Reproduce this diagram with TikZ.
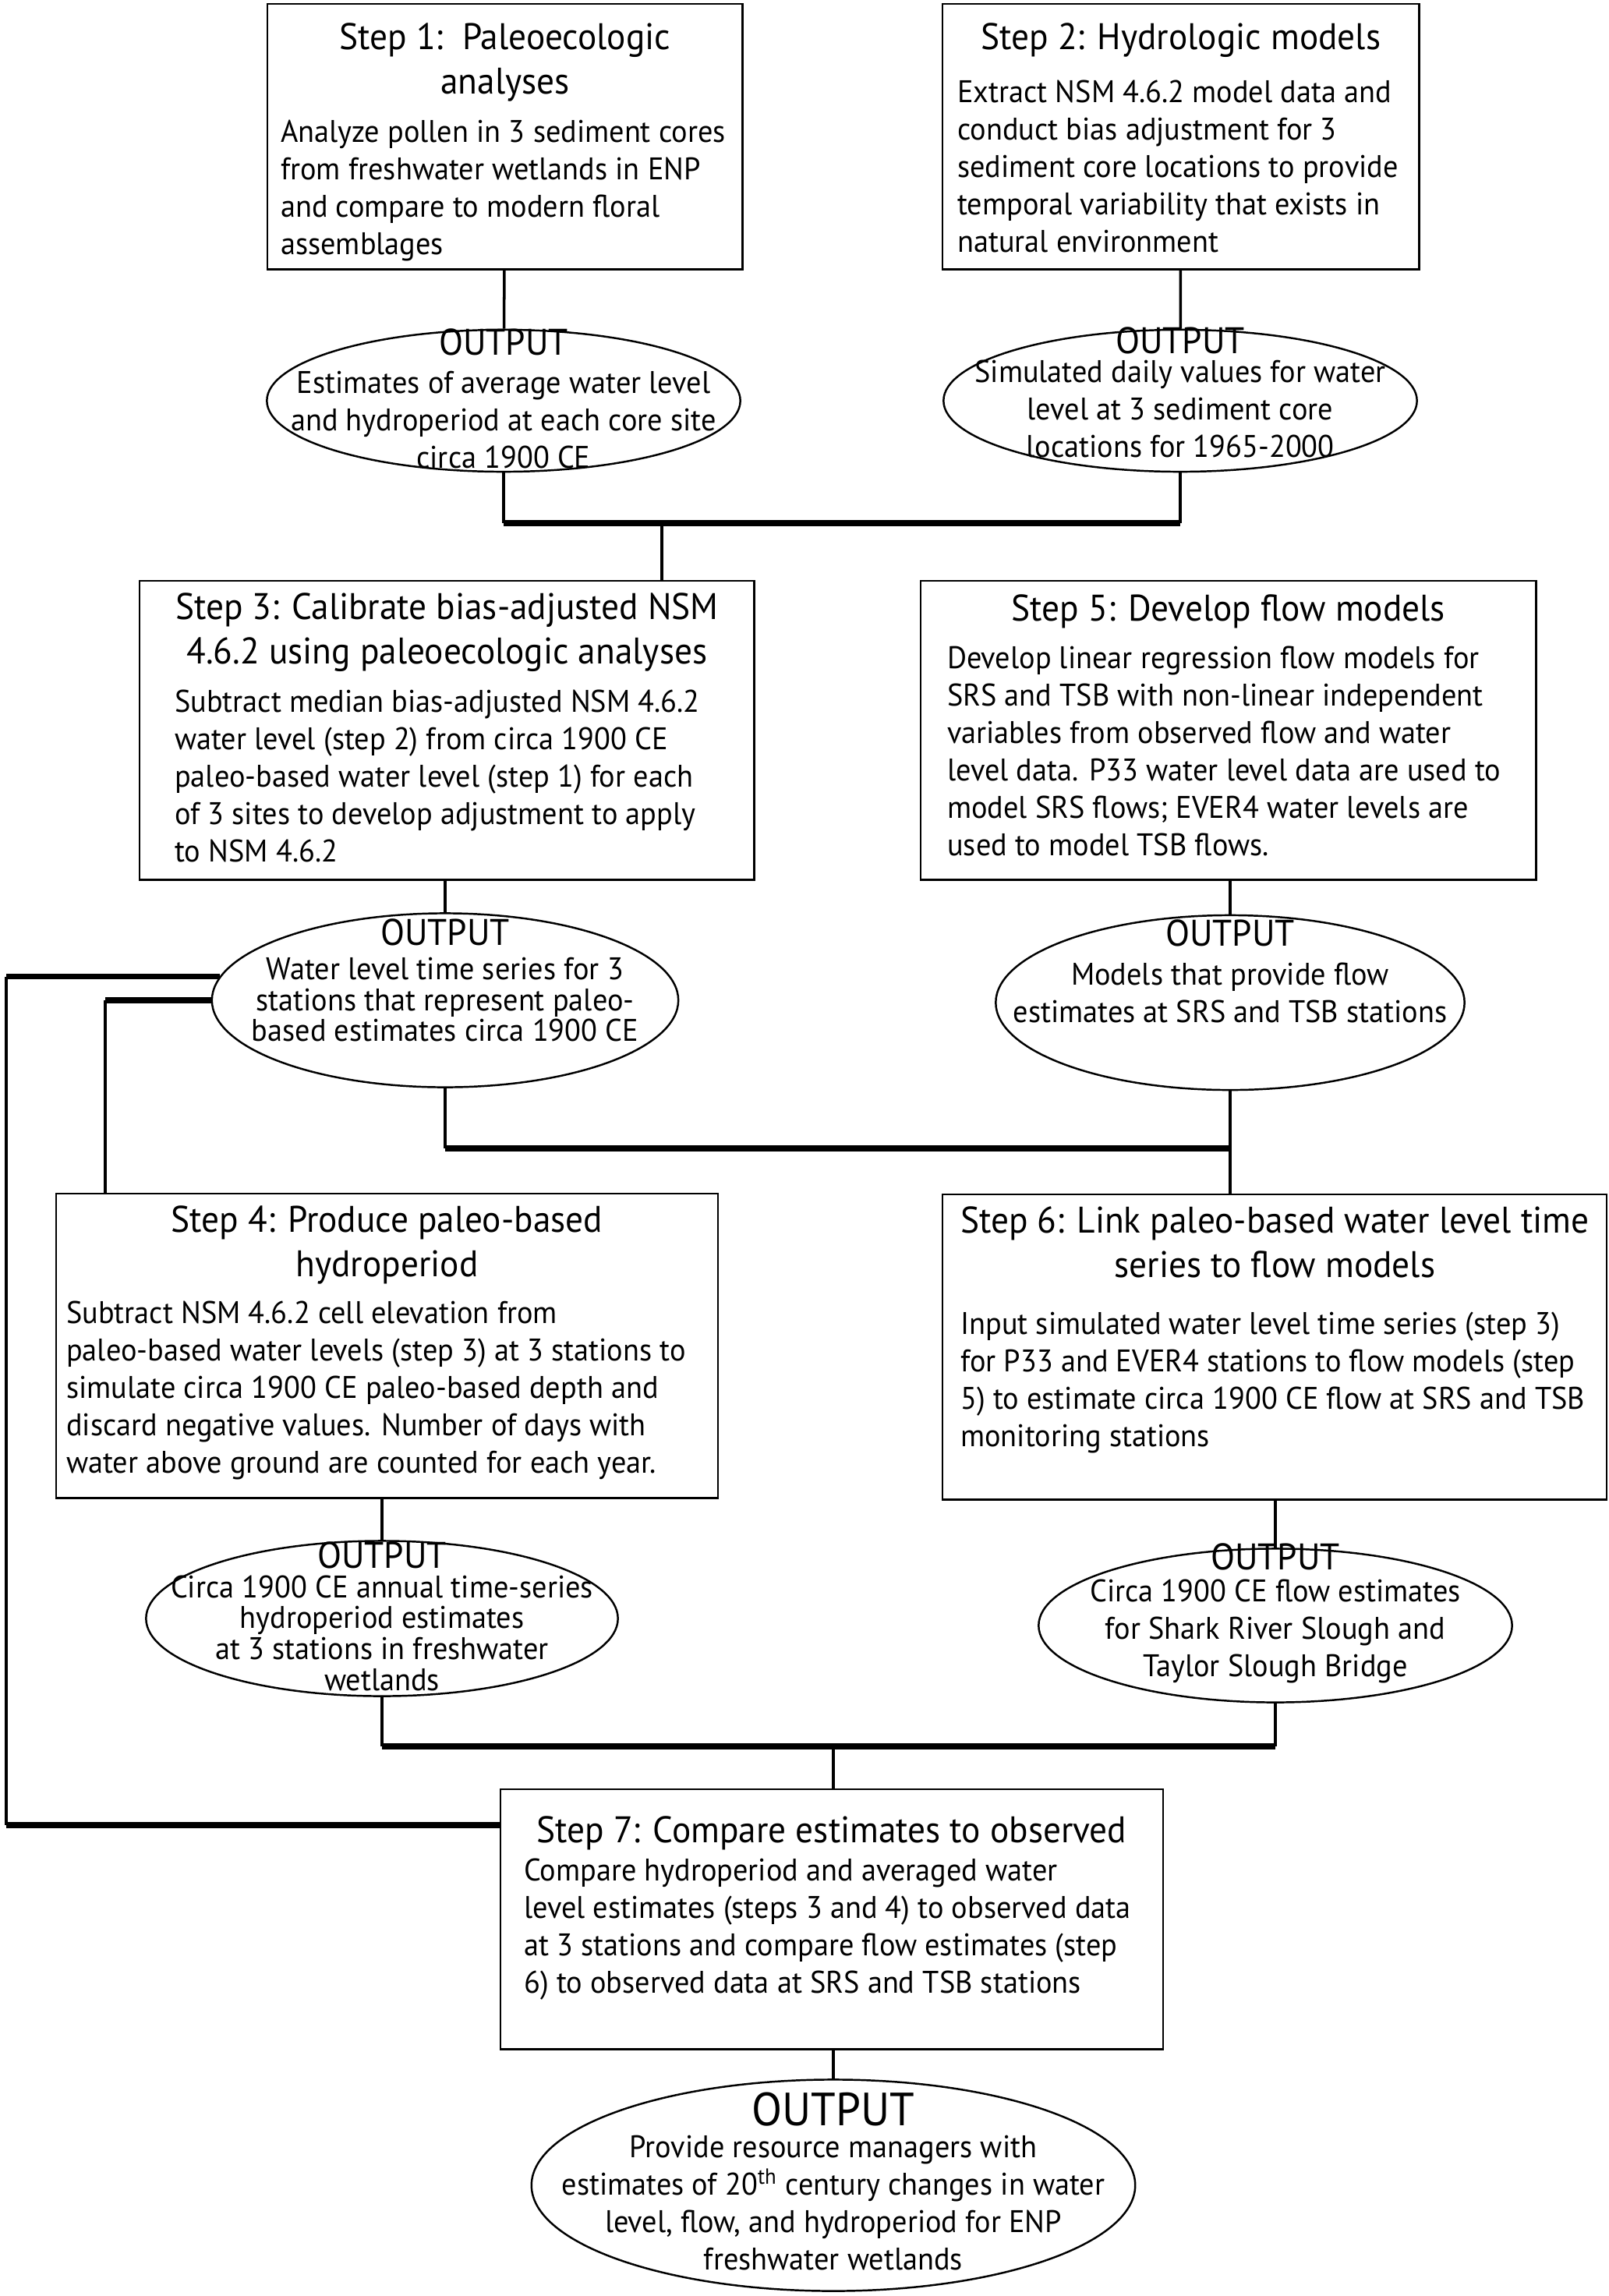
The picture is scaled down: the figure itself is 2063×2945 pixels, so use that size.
\documentclass[tikz,border=0pt]{standalone}
\usepackage{fontspec}
\setmainfont{PT Sans}[FakeStretch=0.955]
\usetikzlibrary{positioning, shapes.geometric, calc}

\newcommand{\titlefont}{\fontsize{13.5}{16.2}\selectfont}
\newcommand{\bodyfont}{\fontsize{11.4}{13.66}\selectfont}
\newcommand{\tightbody}{\fontsize{11.4}{11.3}\selectfont}
\newcommand{\bigtitle}{\fontsize{17}{20}\selectfont}

% step text: width, height, top gap, title/body gap, title, body
\newcommand{\steptext}[6]{\parbox[c][#2][t]{#1}{\vspace*{#3}%
  {\centering\titlefont\begin{tabular}[t]{@{}c@{}}#5\end{tabular}\par}\vspace{#4}%
  {\noindent\bodyfont\begin{tabular}[t]{@{}l@{}}#6\end{tabular}\par}}}
% output text: raise, title font, body font, gap, lines
\newcommand{\outtext}[5]{\raisebox{#1}[0pt][0pt]{\makebox[0pt]{\parbox{9cm}{\centering
  {#2 OUTPUT\par}\vspace{#4}{#3 #5\par}}}}}

\begin{document}
\begin{tikzpicture}[x=0.01cm, y=-0.01cm,
    stepbox/.style={draw, line width=0.7pt, inner ysep=0pt, anchor=north west},
    outbox/.style={draw, ellipse, line width=0.7pt, inner sep=0pt},
    vline/.style={line width=1pt},
    hline/.style={line width=2.2pt}]
\useasboundingbox (0,0) rectangle (2063,2945);

% steps 1 and 2
\node[stepbox, inner xsep=0.17cm] (s1) at (342,4) {\steptext{5.75cm}{3.40cm}{5.2pt}{2.2pt}
  {Step 1:\ \ Paleoecologic\\analyses}
  {Analyze pollen in 3 sediment cores\\ from freshwater wetlands in ENP\\ and compare to modern floral\\ assemblages}};
\node[stepbox, inner xsep=0.19cm] (s2) at (1208,4) {\steptext{5.73cm}{3.40cm}{5.2pt}{4pt}
  {Step 2: Hydrologic models}
  {Extract NSM 4.6.2 model data and\\ conduct bias adjustment for 3\\ sediment core locations to provide\\ temporal variability that exists in\\ natural environment}};

\node[outbox, minimum width=6.07cm, minimum height=1.82cm] (o1) at (646,514)
  {\outtext{-0.06cm}{\titlefont}{\bodyfont}{0.4pt}{Estimates of average water level\\ and hydroperiod at each core site\\ circa 1900 CE}};
\node[outbox, minimum width=6.07cm, minimum height=1.82cm] (o2) at (1514,514)
  {\outtext{0.02cm}{\titlefont}{\bodyfont}{-3.3pt}{Simulated daily values for water\\ level at 3 sediment core\\ locations for 1965-2000}};

% steps 3 and 5
\node[stepbox, inner xsep=0.45cm] (s3) at (178,744) {\steptext{6.98cm}{3.83cm}{2.6pt}{2.2pt}
  {Step 3: Calibrate bias-adjusted NSM\\ 4.6.2 using paleoecologic analyses}
  {Subtract median bias-adjusted NSM 4.6.2\\ water level (step 2) from circa 1900 CE\\ paleo-based water level (step 1) for each\\ of 3 sites to develop adjustment to apply\\ to NSM 4.6.2}};
\node[stepbox, inner xsep=0.34cm] (s5) at (1180,744) {\steptext{7.21cm}{3.83cm}{3.2pt}{2pt}
  {Step 5: Develop flow models}
  {Develop linear regression flow models for\\ SRS and TSB with non-linear independent\\ variables from observed flow and water\\ level data. P33 water level data are used to\\ model SRS flows; EVER4 water levels are\\ used to model TSB flows.}};

\node[outbox, minimum width=5.98cm, minimum height=2.23cm] (o3) at (571,1283)
  {\outtext{0.165cm}{\titlefont}{\tightbody}{1.1pt}{Water level time series for 3\\ stations that represent paleo-\\ based estimates circa 1900 CE}};
\node[outbox, minimum width=6.01cm, minimum height=2.24cm] (o4) at (1578,1286)
  {\outtext{0.31cm}{\titlefont}{\bodyfont}{0.5pt}{Models that provide flow\\ estimates at SRS and TSB stations}};

% steps 4 and 6
\node[stepbox, inner xsep=0.13cm] (s4) at (71,1530) {\steptext{8.22cm}{3.90cm}{2.6pt}{1.8pt}
  {Step 4: Produce paleo-based\\ hydroperiod}
  {Subtract NSM 4.6.2 cell elevation from\\ paleo-based water levels (step 3) at 3 stations to\\ simulate circa 1900 CE paleo-based depth and\\ discard negative values. Number of days with\\ water above ground are counted for each year.}};
\node[stepbox, inner xsep=0.23cm] (s6) at (1208,1531) {\steptext{8.05cm}{3.91cm}{2.6pt}{5.4pt}
  {Step 6: Link paleo-based water level time\\ series to flow models}
  {Input simulated water level time series (step 3)\\ for P33 and EVER4 stations to flow models (step\\ 5) to estimate circa 1900 CE flow at SRS and TSB\\ monitoring stations}};

\node[outbox, minimum width=6.05cm, minimum height=1.99cm] (o5) at (490,2076)
  {\outtext{-0.06cm}{\titlefont}{\tightbody}{-0.6pt}{Circa 1900 CE annual time-series\\ hydroperiod estimates\\ at 3 stations in freshwater\\ wetlands}};
\node[outbox, minimum width=6.07cm, minimum height=1.97cm] (o6) at (1636,2085)
  {\outtext{0.07cm}{\titlefont}{\bodyfont}{-1.9pt}{Circa 1900 CE flow estimates\\ for Shark River Slough and\\ Taylor Slough Bridge}};

% step 7
\node[stepbox, inner xsep=0.30cm] (s7) at (641,2294) {\steptext{7.89cm}{3.33cm}{8pt}{-1.4pt}
  {Step 7: Compare estimates to observed}
  {Compare hydroperiod and averaged water\\ level estimates (steps 3 and 4) to observed data\\ at 3 stations and compare flow estimates (step\\ 6) to observed data at SRS and TSB stations}};

\node[outbox, minimum width=7.74cm, minimum height=2.71cm] (o7) at (1069,2803)
  {\outtext{-0.04cm}{\bigtitle}{\bodyfont}{-2.1pt}{Provide resource managers with\\ estimates of 20\textsuperscript{th} century changes in water\\ level, flow, and hydroperiod for ENP\\ freshwater wetlands}};

% junction points
\coordinate (j1) at (849,671);
\coordinate (j2) at (1578,1473);
\coordinate (j3) at (1069,2240);
\coordinate (li) at (135,1283);
\coordinate (lb) at (8,2341);

% connectors
\draw[vline] (s1) -- (o1);
\draw[vline] (s2) -- (o2);
\draw[vline] (o1.south) -- (o1.south |- j1);
\draw[vline] (o2.south) -- (o2.south |- j1);
\draw[hline] (o1.south |- j1) -- (o2.south |- j1);
\draw[vline] (j1) -- (j1 |- s3.north);

\draw[vline] (o3.north |- s3.south) -- (o3.north);
\draw[vline] (o4.north |- s5.south) -- (o4.north);
\draw[vline] (o3.south) -- (o3.south |- j2);
\draw[hline] (o3.south |- j2) -- (j2);
\draw[vline] (o4.south) -- (o4.south |- s6.north);

\draw[hline] (o3.174) -- (o3.174 -| lb);
\draw[vline] (o3.174 -| lb) -- (lb);
\draw[hline] (lb) -- (lb -| s7.west);
\draw[hline] (o3.west) -- (li);
\draw[vline] (li) -- (li |- s4.north);

\draw[vline] (o5.north |- s4.south) -- (o5.north);
\draw[vline] (o6.north |- s6.south) -- (o6.north);
\draw[vline] (o5.south) -- (o5.south |- j3);
\draw[vline] (o6.south) -- (o6.south |- j3);
\draw[hline] (o5.south |- j3) -- (o6.south |- j3);
\draw[vline] (j3) -- (j3 |- s7.north);
\draw[vline] (o7.north |- s7.south) -- (o7.north);
\end{tikzpicture}
\end{document}
